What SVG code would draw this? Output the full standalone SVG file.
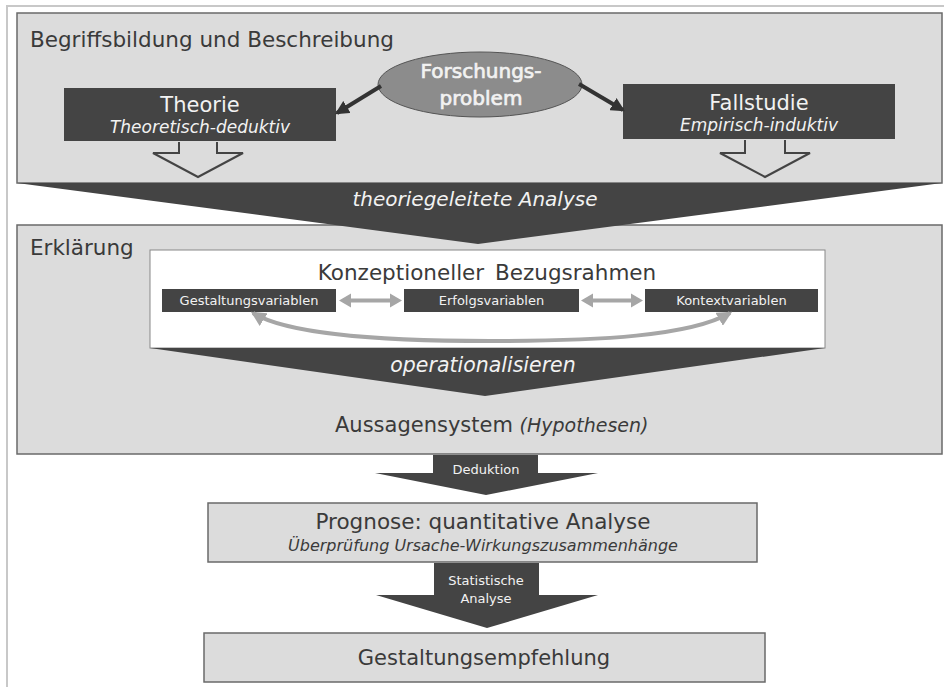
<svg xmlns="http://www.w3.org/2000/svg" width="944" height="687" viewBox="0 0 944 687">
<style>
  .panel { fill:#dcdcdc; stroke:#6a6a6a; stroke-width:1.5; }
  .dark { fill:#444444; }
  .hd { font-family:"DejaVu Sans","Open Sans",sans-serif; fill:#3a3a3a; }
  .wt { font-family:"DejaVu Sans","Open Sans",sans-serif; fill:#f2f2f2; }
  .it { font-style:italic; }
  .hollow { fill:#dcdcdc; stroke:#444444; stroke-width:2; stroke-linejoin:miter; }
  .garrow { fill:#a6a6a6; }
</style>
<defs>
  <marker id="darkhead" viewBox="0 0 12 12" refX="10" refY="6" markerWidth="14" markerHeight="14" markerUnits="userSpaceOnUse" orient="auto">
    <path d="M0,0 L12,6 L0,12 Z" fill="#333333"/>
  </marker>
  <marker id="grayhead" viewBox="0 0 12 12" refX="10" refY="6" markerWidth="15" markerHeight="15" markerUnits="userSpaceOnUse" orient="auto-start-reverse">
    <path d="M0,0 L12,6 L0,12 Z" fill="#a6a6a6"/>
  </marker>
</defs>

<!-- outer frame -->
<g id="frame" fill="none" stroke="#c8c8c8" stroke-width="2">
  <path d="M944,6 L7,6 L7,687"/>
</g>

<!-- panel 1 -->
<g id="panel-begriffsbildung">
  <rect class="panel" x="17" y="13" width="925" height="170"/>
  <text class="hd" x="30" y="47" font-size="21.5">Begriffsbildung und Beschreibung</text>
</g>

<!-- panel 2 -->
<g id="panel-erklaerung">
  <rect class="panel" x="17" y="225" width="925" height="229"/>
  <text class="hd" x="30" y="255" font-size="21.5">Erklärung</text>
</g>

<!-- funnel 1 -->
<g id="funnel-theoriegeleitet">
  <polygon class="dark" points="17,183 942,183 478,244"/>
  <text class="wt it" x="475" y="206" font-size="20" text-anchor="middle">theoriegeleitete Analyse</text>
</g>

<!-- Theorie -->
<g id="node-theorie">
  <rect class="dark" x="64" y="88" width="272" height="53"/>
  <text class="wt" x="200" y="112" font-size="21" text-anchor="middle">Theorie</text>
  <text class="wt it" x="200" y="133" font-size="17" text-anchor="middle">Theoretisch-deduktiv</text>
  <path class="hollow" d="M179,142 L179,153 L153,153 L198,177 L243,153 L217,153 L217,142"/>
</g>

<!-- Fallstudie -->
<g id="node-fallstudie">
  <rect class="dark" x="623" y="84" width="272" height="55"/>
  <text class="wt" x="759" y="110" font-size="21" text-anchor="middle">Fallstudie</text>
  <text class="wt it" x="759" y="131" font-size="17" text-anchor="middle">Empirisch-induktiv</text>
  <path class="hollow" d="M745,140 L745,153 L720,153 L765,177 L810,153 L785,153 L785,140"/>
</g>

<!-- Forschungsproblem -->
<g id="node-forschungsproblem">
  <ellipse cx="480" cy="84.5" rx="102" ry="32.5" fill="#8c8c8c" stroke="#555555" stroke-width="1"/>
  <text class="wt" x="481" y="78" font-size="20" text-anchor="middle" stroke="#f2f2f2" stroke-width="0.7">Forschungs-</text>
  <text class="wt" x="481" y="105" font-size="20" text-anchor="middle" stroke="#f2f2f2" stroke-width="0.7">problem</text>
</g>

<!-- Konzeptioneller Bezugsrahmen -->
<g id="node-bezugsrahmen">
  <rect x="150" y="250" width="675" height="98" fill="#ffffff" stroke="#888888" stroke-width="1"/>
  <text class="hd" x="487" y="280" font-size="21.5" text-anchor="middle" word-spacing="4">Konzeptioneller Bezugsrahmen</text>
</g>

<g id="node-gestaltungsvariablen">
  <rect class="dark" x="162" y="289" width="174" height="23"/>
  <text class="wt" x="249" y="305" font-size="13" text-anchor="middle">Gestaltungsvariablen</text>
</g>
<g id="node-erfolgsvariablen">
  <rect class="dark" x="404" y="289" width="175" height="23"/>
  <text class="wt" x="491.5" y="305" font-size="13" text-anchor="middle">Erfolgsvariablen</text>
</g>
<g id="node-kontextvariablen">
  <rect class="dark" x="645" y="289" width="173" height="23"/>
  <text class="wt" x="731.5" y="305" font-size="13" text-anchor="middle">Kontextvariablen</text>
</g>

<!-- funnel 2 -->
<g id="funnel-operationalisieren">
  <polygon class="dark" points="150,348 825,348 485,396"/>
  <text class="wt it" x="483" y="372" font-size="20.5" text-anchor="middle">operationalisieren</text>
</g>

<g id="node-aussagensystem">
  <text class="hd" x="335" y="432" font-size="21">Aussagensystem <tspan class="it" font-size="19">(Hypothesen)</tspan></text>
</g>

<!-- Prognose -->
<g id="node-prognose">
  <rect class="panel" x="208" y="503" width="549" height="59" stroke="#777777"/>
  <text class="hd" x="483" y="529" font-size="21.5" text-anchor="middle">Prognose: quantitative Analyse</text>
  <text class="hd it" x="483" y="551" font-size="16" text-anchor="middle">Überprüfung Ursache-Wirkungszusammenhänge</text>
</g>

<!-- Gestaltungsempfehlung -->
<g id="node-gestaltungsempfehlung">
  <rect class="panel" x="204" y="633" width="561" height="49" stroke="#777777"/>
  <text class="hd" x="484" y="665" font-size="21" text-anchor="middle">Gestaltungsempfehlung</text>
</g>

<!-- connectors -->
<g id="connectors">
  <line x1="381" y1="86" x2="337" y2="113" stroke="#333333" stroke-width="4" marker-end="url(#darkhead)"/>
  <line x1="579" y1="84" x2="623" y2="110" stroke="#333333" stroke-width="4" marker-end="url(#darkhead)"/>
  <polygon class="garrow" points="339,300.5 351,293.5 351,298.5 390,298.5 390,293.5 402,300.5 390,307.5 390,302.5 351,302.5 351,307.5"/>
  <polygon class="garrow" points="581,300.5 593,293.5 593,298.5 631,298.5 631,293.5 643,300.5 631,307.5 631,302.5 593,302.5 593,307.5"/>
  <path d="M253,313 C290,336 400,341 490,341 C600,341 690,336 730,313" fill="none" stroke="#a6a6a6" stroke-width="4" marker-start="url(#grayhead)" marker-end="url(#grayhead)"/>
  <g id="arrow-deduktion">
    <polygon class="dark" points="433,455 538,455 538,473 598,473 486,495 375,473 433,473"/>
    <text class="wt" x="486" y="474" font-size="13" text-anchor="middle">Deduktion</text>
  </g>
  <g id="arrow-statistische-analyse">
    <polygon class="dark" points="434,563 539,563 539,595 598,595 487,628 376,595 434,595"/>
    <text class="wt" x="486" y="585" font-size="13" text-anchor="middle">Statistische</text>
    <text class="wt" x="486" y="603" font-size="13" text-anchor="middle">Analyse</text>
  </g>
</g>
</svg>
